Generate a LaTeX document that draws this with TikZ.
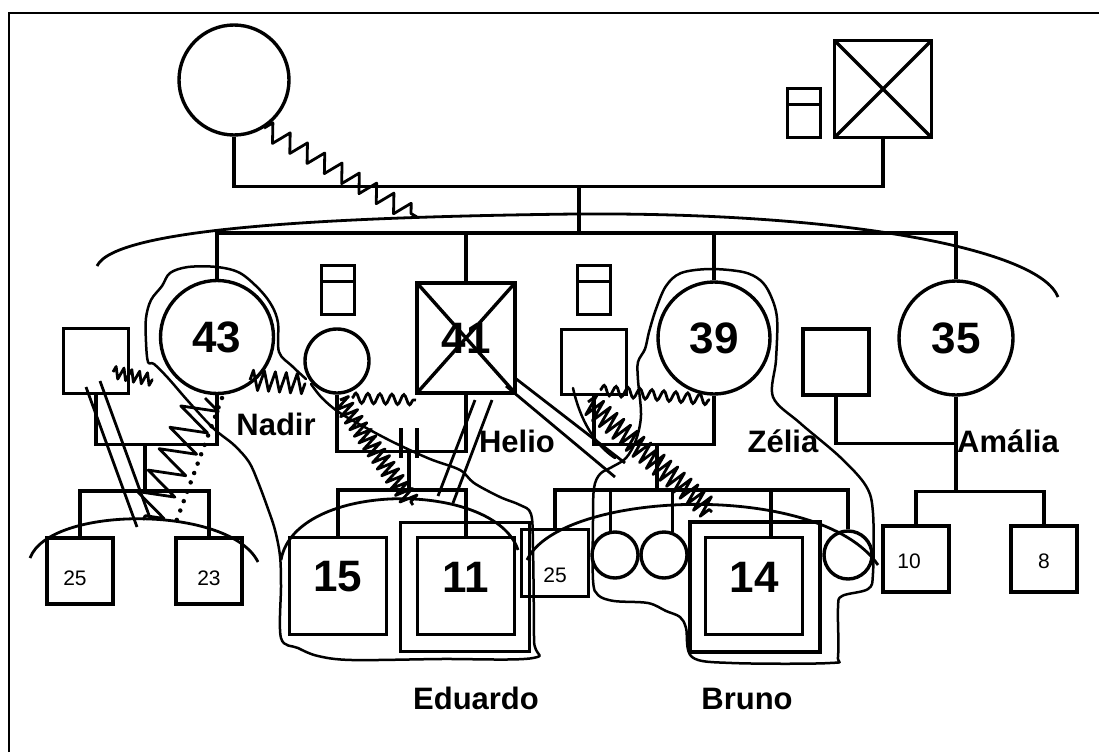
\documentclass[tikz,border=0pt]{standalone}
\usepackage{fontspec}
\setmainfont{Liberation Sans}
\usetikzlibrary{decorations.pathmorphing}
\begin{document}
\begin{tikzpicture}[x=1pt,y=-1pt,
  fam/.style={line width=3.4pt},
  man/.style={draw,line width=3.4pt,rectangle,inner sep=0pt,minimum size=#1},
  woman/.style={draw,line width=3.4pt,circle,inner sep=0pt,minimum size=#1},
  dead/.style={path picture={\draw[line width=3.4pt] (path picture bounding box.north west)--(path picture bounding box.south east) (path picture bounding box.north east)--(path picture bounding box.south west);}},
  stone/.style={draw,line width=2.8pt,rectangle,inner sep=0pt,minimum width=33pt,minimum height=49pt,
    path picture={\draw[line width=2.8pt] ([yshift=-16pt]path picture bounding box.north west)--([yshift=-16pt]path picture bounding box.north east);}},
  bignum/.style={font=\fontsize{44}{44}\selectfont\bfseries},
  smallnum/.style={font=\fontsize{21}{21}\selectfont},
  pname/.style={font=\fontsize{31}{31}\selectfont\bfseries,inner sep=0pt,anchor=base},
  freeh/.style={line width=2.5pt,line join=round,line cap=round},
  zz/.style 2 args={line width=2.8pt,line join=round,decorate,decoration={zigzag,segment length=#1,amplitude=#2}},
  wave/.style={line width=2.8pt,decorate,decoration={snake,segment length=12pt,amplitude=5pt}},
  thin/.style={line width=2.8pt},
]
\useasboundingbox (0,0) rectangle (1099,752);
\fill[white] (0,0) rectangle (1099,752);
% frame
\draw[line width=2pt] (9,752) -- (9,13) -- (1099,13);

% ---------- people ----------
\node[woman=110pt] (gm) at (234,80) {};
\node[man=97pt,dead] (gf) at (883,89) {};
\node[stone] (gfs) at (804,113) {};

\node[woman=113pt,bignum] (w43) at (217,337) {43};
\node[man=65pt] (h43) at (96,361) {};
\node[woman=64pt] (nadir) at (337,361) {};
\node[stone] (nadirs) at (338,290) {};
\node[draw,line width=3.4pt,rectangle,inner sep=0pt,minimum width=98pt,minimum height=110pt,dead,bignum] (m41) at (466,338) {41};
\node[stone] (zs) at (594,290) {};
\node[man=65pt] (zh) at (594,362) {};
\node[woman=112pt,bignum] (w39) at (714,338) {39};
\node[man=66pt] (ah) at (836,362) {};
\node[woman=114pt,bignum] (w35) at (956,338) {35};

% children
\node[man=66pt,label={[smallnum,xshift=-5pt,yshift=-7pt]center:25}] (k25a) at (80,571) {};
\node[man=66pt,label={[smallnum,yshift=-7pt]center:23}] (k23) at (209,571) {};
\node[man=97pt,label={[bignum,yshift=9pt]center:15}] (k15) at (338,586) {};
\node[man=129pt] (k11o) at (465,587) {};
\node[man=97pt,label={[bignum,yshift=9pt]center:11}] (k11) at (466,586) {};
\node[man=67pt,label={[smallnum,yshift=-12pt]center:25}] (k25b) at (555,563) {};
\node[woman=46pt] (c1) at (615,555) {};
\node[woman=46pt] (c2) at (664,555) {};
\node[man=130pt] (k14o) at (755,587) {};
\node[man=97pt,label={[bignum,yshift=9pt]center:14}] (k14) at (754,586) {};
\node[woman=48pt] (c3) at (848,555) {};
\node[man=66pt,label={[smallnum,xshift=-7pt,yshift=-2pt]center:10}] (k10) at (916,559) {};
\node[man=66pt,label={[smallnum,yshift=-2pt]center:8}] (k8) at (1044,559) {};

% names
\node[pname] (tNadir) at (276,435) {Nadir};
\node[pname] (tHelio) at (517,452) {Helio};
\node[pname] (tZelia) at (783,452) {Zélia};
\node[pname] (tAmalia) at (1008,452) {Amália};
\node[pname] (tEduardo) at (476,709) {Eduardo};
\node[pname] (tBruno) at (747,709) {Bruno};

% ---------- family lines ----------
\draw[fam] (gm.south) -- ++(0,50) -| (gf.south);
\coordinate (gmid) at (579,185);
\coordinate (gsib) at (579,233);
\draw[fam] (gmid) -- (gsib);
\draw[fam] (w43.north) |- (gsib) -| (w35.north);
\draw[fam] (m41.north) -- (m41.north |- gsib);
\draw[fam] (w39.north) -- (w39.north |- gsib);

% 43 and partner
\draw[fam] (h43.south) -- ++(0,49) -| (w43.south);
\coordinate (c43) at (145,443);
\draw[fam] (c43) -- ++(0,48) coordinate (k43line);
\draw[fam] (k25a.north) |- (k43line) -| (k23.north);

% Nadir and 41
\draw[fam] (nadir.south) -- ++(0,57) -| (m41.south);
\coordinate (c41) at (409,450);
\draw[fam] (c41) -- ++(0,40) coordinate (k41line);
\draw[fam] (k15.north) |- (k41line) -| (k11.north);
\draw[fam] ([xshift=-8pt,yshift=22pt]c41) -- ([xshift=-8pt,yshift=-8pt]c41);
\draw[fam] ([xshift=8pt,yshift=22pt]c41) -- ([xshift=8pt,yshift=-8pt]c41);

% Zelia and partner
\draw[fam] (zh.south) -- ++(0,48) -| (w39.south);
\coordinate (c39) at (657,443);
\draw[fam] (c39) -- ++(0,47) coordinate (k39line);
\draw[fam] (k25b.north) |- (k39line) -| (c3.north);
\draw[fam] (c1.100) -- (c1.100 |- k39line);
\draw[fam] (c2.70) -- (c2.70 |- k39line);
\draw[fam] ([xshift=17pt]k14.north) -- ([xshift=17pt]k14.north |- k39line);

% Amalia and partner
\draw[fam] (ah.south) -- ++(0,47) -| (w35.south);
\draw[fam] (w35.south) -- ++(0,95) coordinate (k35line);
\draw[fam] (k10.north) |- (k35line) -| (k8.north);

% ---------- sibling arcs ----------
\draw[line width=2.8pt] (97,266) .. controls (115,228) and (330,217) .. (575,214) .. controls (850,212) and (1040,250) .. (1058,297);
\draw[line width=2.8pt] (30,558) .. controls (50,505) and (230,505) .. (258,562);
\draw[line width=2.8pt] (281,560) .. controls (295,480) and (495,480) .. (518,550);
\draw[line width=2.8pt] (527,560) .. controls (560,490) and (820,480) .. (878,565);

% ---------- relationship lines ----------
\coordinate (zgend) at (417,217);
\draw[zz={20pt}{9pt}] (gm.-58) -- (zgend);
\draw[zz={8pt}{6pt}] (113,372) -- (153,380);
\draw[zz={24pt}{18pt}] (205,398) -- (143,520);
\draw[line width=4.5pt,line cap=round,dash pattern=on 0pt off 10pt] (222,398) -- (176,522);
\draw[thin] (86,387) -- (137,527);
\draw[thin] (100,381) -- (150,518);
\draw[zz={11pt}{10pt}] (250,380) -- (306,384);
\draw[wave] (352,398) -- (416,400);
\draw[zz={8pt}{9pt}] (340,400) -- (413,505);
\draw[thin] (475,400) -- (438,496);
\draw[thin] (492,400) -- (453,503);
\draw[thin] (515,378) -- (625,463);
\draw[thin] (506,386) -- (615,477);
\draw[wave] (600,390) -- (710,400);
\draw[freeh] (573,388) .. controls (580,420) and (595,445) .. (615,458);
\draw[zz={9pt}{11pt}] (588,402) -- (712,512);

% ---------- freehand outlines ----------
\draw[freeh] plot[smooth,tension=.55] coordinates {(306,379) (292,366) (279,352) (278,323) (272,306) (260,290) (240,273) (217,267) (188,267) (170,273) (162,286) (151,300) (146,318) (146,342) (148,362) (154,364) (168,378) (188,401) (213,428) (234,445) (249,462) (258,482) (267,506) (275,530) (280,556) (281,585) (281,638) (298,648) (318,656) (352,660) (440,659) (533,658) (534,640) (533,548) (531,514) (520,505) (500,497) (474,483) (460,470) (430,459) (397,444) (370,430) (340,413) (322,398) (311,384)};
\draw[freeh] plot[smooth cycle,tension=.55] coordinates {(593,580) (593,520) (594,488) (600,474) (612,467) (626,458) (636,440) (641,415) (638,380) (638,362) (645,349) (649,332) (656,309) (666,286) (681,273) (710,269) (743,272) (760,280) (770,294) (777,318) (776,360) (773,397) (800,423) (840,457) (866,486) (873,513) (873,573) (868,589) (842,596) (838,608) (838,656) (830,663) (732,663) (692,657) (686,628) (680,617) (666,611) (648,603) (614,601) (598,595)};
\end{tikzpicture}
\end{document}
